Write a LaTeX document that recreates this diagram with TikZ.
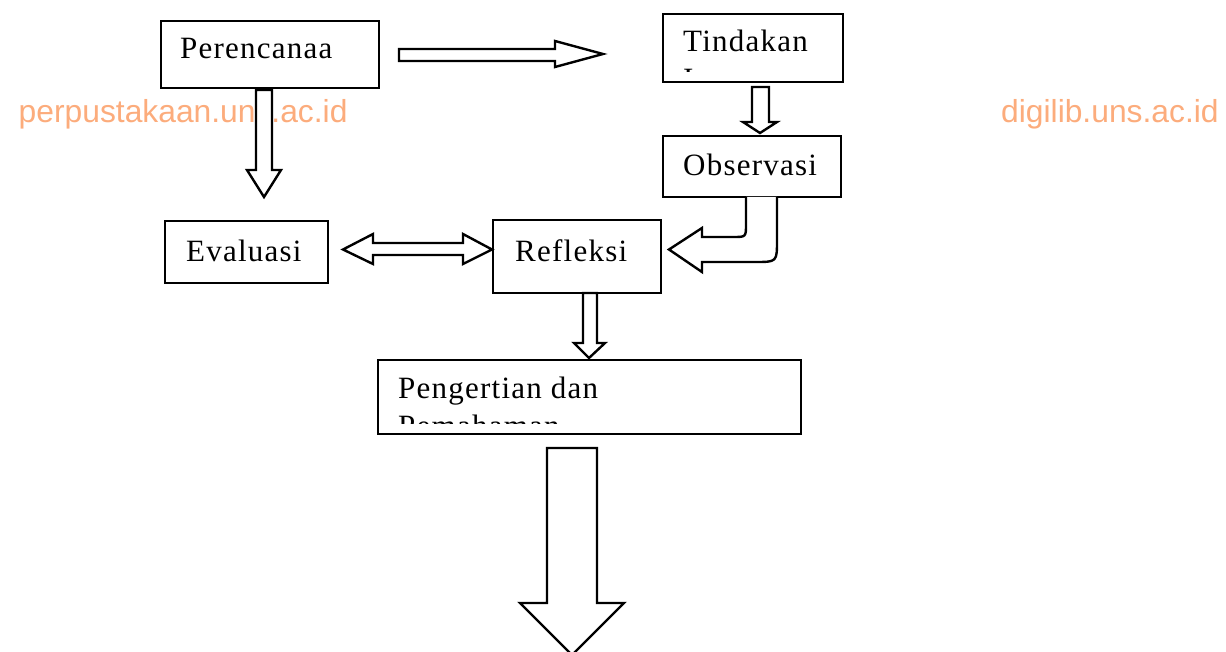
\documentclass[tikz,border=0pt]{standalone}
\usepackage{fontspec}
\setmainfont{Liberation Serif}
\newfontfamily\boxfont{Liberation Serif}[LetterSpace=4]
\newfontfamily\wmfont{Liberation Sans}
\definecolor{wmorange}{RGB}{252,172,124}
\tikzset{
  box/.style={draw=black, line width=2.4pt, fill=white, rectangle, inner sep=0pt, anchor=north west},
  txt/.style={inner sep=0pt, anchor=base west, font=\boxfont\fontsize{31}{38}\selectfont, align=left},
  wm/.style={inner sep=0pt, anchor=base west, text=wmorange, font=\wmfont\fontsize{31.8}{36}\selectfont},
  blockarrow/.style={draw=black, line width=2.4pt, fill=white, line join=miter}
}
\begin{document}
\begin{tikzpicture}[x=1pt,y=-1pt]
\fill[white] (0,0) rectangle (1226,652);
\useasboundingbox (0,0) rectangle (1226,652);

% watermarks
\node[wm] (wm1) at (18.5,123) {perpustakaan.uns.ac.id};
\node[wm] (wm2) at (1001,123) {digilib.uns.ac.id};

% boxes
\node[box, minimum width=218pt, minimum height=67pt] (per) at (160,20) {};
\node[box, minimum width=180pt, minimum height=68pt] (tin) at (662,13) {};
\node[box, minimum width=178pt, minimum height=61pt] (obs) at (662,135) {};
\node[box, minimum width=163pt, minimum height=62pt] (eva) at (164,220) {};
\node[box, minimum width=168pt, minimum height=73pt] (ref) at (492,219) {};
\node[box, minimum width=423pt, minimum height=74pt] (pen) at (377,359) {};

% texts
\node[txt] (perT) at (180,59) {Perencanaa};
\begin{scope}
  \clip (663,14) rectangle (841,72);
  \node[txt] (tinT) at (683,90) {Tindakan\\I};
\end{scope}
\node[txt] (obsT) at (683,176) {Observasi};
\node[txt] (evaT) at (186,262) {Evaluasi};
\node[txt] (refT) at (515,262) {Refleksi};
\begin{scope}
  \clip (378,360) rectangle (799,423);
  \node[txt] (penT) at (398,436) {Pengertian dan\\Pemahaman};
\end{scope}

% arrows
% Perencanaan -> Tindakan
\draw[blockarrow] (399,49) -- (555,49) -- (555,41) -- (603,54) -- (555,67) -- (555,61) -- (399,61) -- cycle;
% Perencanaan -> Evaluasi
\draw[blockarrow] (256,90) -- (272,90) -- (272,170) -- (281,170) -- (264,197) -- (247,170) -- (256,170) -- cycle;
% Tindakan -> Observasi
\draw[blockarrow] (752,87) -- (769,87) -- (769,122) -- (777,122) -- (760,133) -- (743,122) -- (752,122) -- cycle;
% Observasi -> Refleksi (curved)
\draw[blockarrow] (746,197) -- (746,224) .. controls (746,237) .. (733,237) -- (702,237) -- (702,228) -- (669,249.5) -- (702,272) -- (702,262) -- (755,262) .. controls (777,262) .. (777,240) -- (777,197);
% Evaluasi <-> Refleksi
\draw[blockarrow] (343,249.5) -- (373,234) -- (373,243) -- (463,243) -- (463,234) -- (492,249.5) -- (463,264) -- (463,255) -- (373,255) -- (373,264) -- cycle;
% Refleksi -> Pengertian
\draw[blockarrow] (583,293) -- (597,293) -- (597,343) -- (605,343) -- (589,358) -- (574,343) -- (583,343) -- cycle;
% Pengertian -> (below)
\draw[blockarrow] (547,448) -- (597,448) -- (597,603) -- (624,603) -- (572,655) -- (520,603) -- (547,603) -- cycle;
\end{tikzpicture}
\end{document}
